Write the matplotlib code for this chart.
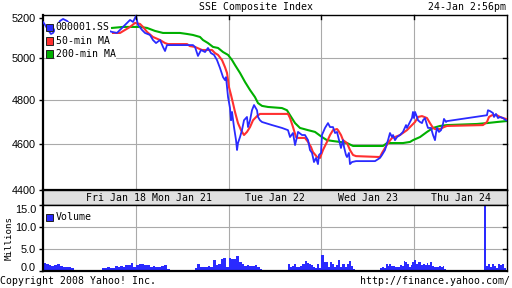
import matplotlib
matplotlib.use('Agg')
import matplotlib.pyplot as plt
from matplotlib.patches import Rectangle
from matplotlib.transforms import blended_transform_factory
import numpy as np

# x axis: one trading day per unit, 09:30 -> 0.0, 15:00 -> 1.0 (lunch kept as gap)
days = ['Fri Jan 18', 'Mon Jan 21', 'Tue Jan 22', 'Wed Jan 23', 'Thu Jan 24']
day_label_pos = [0.79, 1.5, 2.5, 3.5, 4.5]

price_t = [0.000, 0.022, 0.054, 0.086, 0.108, 0.140, 0.183, 0.216, 0.259, 0.291, 0.366,
           0.625, 0.679, 0.744, 0.797, 0.851, 0.905, 0.938, 0.970, 1.002,
           1.024, 1.067, 1.099, 1.153, 1.185, 1.218, 1.261, 1.293, 1.315, 1.336, 1.369,
           1.616, 1.638, 1.670, 1.703, 1.746, 1.778, 1.810, 1.843, 1.875, 1.907, 1.940,
           1.961, 1.972, 1.994,
           2.015, 2.026, 2.037, 2.058, 2.080, 2.091, 2.101, 2.123, 2.144, 2.166, 2.198,
           2.209, 2.231, 2.252, 2.274, 2.306, 2.317, 2.338, 2.360, 2.468, 2.575, 2.640,
           2.662, 2.694, 2.716, 2.737, 2.748, 2.791, 2.823, 2.856, 2.877, 2.899, 2.920,
           2.942, 2.963, 2.974, 2.996,
           3.006, 3.039, 3.071, 3.093, 3.125, 3.147, 3.168, 3.190, 3.211, 3.233, 3.244,
           3.265, 3.276, 3.297, 3.308, 3.330, 3.373, 3.578, 3.631, 3.653, 3.685, 3.707,
           3.718, 3.739, 3.761, 3.772, 3.793, 3.815, 3.847, 3.879, 3.912, 3.922, 3.955,
           3.976, 3.987, 3.998, 4.009,
           4.030, 4.041, 4.063, 4.084, 4.095, 4.116, 4.138, 4.149, 4.181, 4.203, 4.224,
           4.235, 4.246, 4.267, 4.289, 4.310, 4.321, 4.343, 4.353, 4.784, 4.795, 4.817,
           4.849, 4.860, 4.881, 4.903, 4.925, 4.957, 4.989]
price = [5179, 5164, 5139, 5119, 5124, 5149, 5184, 5194, 5184, 5169, 5154,
         5154, 5139, 5129, 5124, 5149, 5174, 5189, 5179, 5209,
         5164, 5139, 5124, 5114, 5089, 5074, 5089, 5055, 5035, 5064, 5064,
         5064, 5055, 5011, 5040, 5030, 5050, 5025, 5016, 4991, 4953, 4909,
         4895, 4909, 4815,
         4764, 4708, 4746, 4677, 4618, 4574, 4605, 4632, 4663, 4708, 4723,
         4677, 4708, 4754, 4778, 4754, 4723, 4708, 4700, 4686, 4673, 4663,
         4632, 4650, 4596, 4632, 4655, 4641, 4641, 4618, 4574, 4561, 4521,
         4539, 4512, 4552, 4561,
         4641, 4673, 4695, 4677, 4677, 4650, 4655, 4618, 4583, 4618, 4587,
         4552, 4543, 4561, 4512, 4521, 4525, 4525, 4539, 4552, 4574, 4605,
         4618, 4650, 4632, 4641, 4618, 4632, 4641, 4655, 4686, 4673, 4700,
         4718, 4746, 4718, 4746,
         4723, 4708, 4700, 4695, 4708, 4718, 4686, 4673, 4673, 4641, 4618,
         4650, 4673, 4655, 4663, 4691, 4714, 4700, 4704, 4731, 4754, 4750,
         4741, 4723, 4737, 4718, 4723, 4718, 4708]

ma50_t = [0.754, 0.830, 0.884, 0.938, 0.991, 1.045, 1.078, 1.121, 1.185, 1.261, 1.315,
          1.347, 1.552, 1.584, 1.638, 1.713, 1.821, 1.853, 1.886, 1.929, 1.961, 1.983,
          2.004, 2.026, 2.047, 2.069, 2.101, 2.134, 2.166, 2.198, 2.231, 2.263, 2.306,
          2.338, 2.640, 2.662, 2.694, 2.726, 2.748, 2.823, 2.856, 2.888, 2.909, 2.953,
          2.985, 3.017, 3.060, 3.093, 3.125, 3.168, 3.179, 3.211, 3.233, 3.276, 3.308,
          3.341, 3.373, 3.631, 3.653, 3.685, 3.718, 3.761, 3.793, 3.847, 3.922, 3.976,
          4.009, 4.041, 4.084, 4.138, 4.170, 4.203, 4.224, 4.278, 4.321, 4.353, 4.741,
          4.784, 4.806, 4.838, 4.892, 4.925, 4.957, 4.989]
ma50 = [5124, 5124, 5139, 5154, 5174, 5169, 5154, 5129, 5104, 5089, 5074,
        5069, 5069, 5059, 5055, 5040, 5040, 5025, 5016, 4991, 4957, 4929,
        4862, 4825, 4787, 4746, 4695, 4663, 4641, 4655, 4677, 4708, 4727,
        4737, 4737, 4718, 4677, 4632, 4628, 4628, 4610, 4587, 4565, 4543,
        4539, 4574, 4610, 4641, 4663, 4668, 4663, 4641, 4618, 4605, 4574,
        4552, 4547, 4543, 4561, 4583, 4605, 4628, 4632, 4641, 4663, 4686,
        4700, 4723, 4727, 4718, 4695, 4673, 4668, 4668, 4677, 4682, 4686,
        4700, 4723, 4731, 4731, 4723, 4718, 4714]

ma200_t = [0.744, 0.862, 0.970, 1.045, 1.121, 1.207, 1.293, 1.401, 1.476, 1.552, 1.616,
           1.692, 1.724, 1.778, 1.832, 1.886, 1.940, 1.994, 2.037, 2.069, 2.123, 2.177,
           2.231, 2.284, 2.317, 2.360, 2.425, 2.575, 2.629, 2.662, 2.716, 2.769, 2.856,
           2.931, 3.006, 3.060, 3.125, 3.200, 3.276, 3.341, 3.664, 3.707, 3.879, 3.955,
           3.987, 4.063, 4.138, 4.203, 4.278, 4.353, 4.677, 4.784, 4.892, 4.989]
ma200 = [5149, 5154, 5154, 5154, 5149, 5134, 5124, 5124, 5124, 5119, 5114,
         5104, 5089, 5074, 5055, 5050, 5030, 5016, 4991, 4967, 4929, 4886,
         4848, 4815, 4787, 4774, 4769, 4764, 4754, 4731, 4695, 4673, 4663,
         4655, 4632, 4618, 4614, 4610, 4605, 4592, 4592, 4605, 4605, 4610,
         4618, 4632, 4655, 4673, 4682, 4686, 4691, 4695, 4700, 4704]

# volume in millions, one list per trading session (day, start, end, values)
vol_sessions = [
    (0, '09:30', '11:30', [1.8, 1.7, 1.3, 1.2, 1.4, 1.6, 1.1, 0.9, 0.9, 0.9, 0.6, 0.3]),
    (0, '13:00', '15:00', [0.6, 0.6, 0.9, 0.7, 0.7, 1.1, 0.85, 1.2, 0.8, 1.3, 1.35, 1.8, 0.95]),
    (1, '09:30', '11:30', [1.4, 1.5, 1.5, 1.4, 1.35, 1.0, 1.2, 0.8, 0.85, 1.2, 1.3, 0.5]),
    (1, '13:00', '15:00', [0.6, 1.5, 0.9, 0.8, 0.8, 1.1, 0.9, 2.4, 1.3, 1.7, 2.7, 2.9, 1.0]),
    (2, '09:30', '11:30', [3.0, 2.7, 2.8, 3.3, 2.0, 1.5, 1.1, 1.35, 1.1, 1.2, 1.35, 0.9, 0.5]),
    (2, '13:00', '15:00', [1.5, 0.9, 1.2, 1.6, 1.0, 0.8, 1.1, 1.6, 2.3, 1.8, 1.5, 1.4, 1.0,
                           0.6, 1.5, 0.7]),
    (3, '09:30', '11:30', [3.6, 2.0, 2.0, 0.9, 2.0, 1.7, 1.0, 1.3, 2.4, 1.0, 1.5, 0.9, 1.7,
                           2.3, 1.2, 0.4]),
    (3, '13:00', '15:00', [0.7, 0.9, 0.6, 1.5, 1.2, 1.7, 1.2, 1.1, 1.0, 0.9, 1.0, 1.3, 1.2,
                           2.3, 2.1, 1.7, 1.0, 1.3, 2.1]),
    (4, '09:30', '11:30', [2.5, 1.5, 2.1, 2.0, 1.3, 1.7, 1.3, 1.9, 1.4, 2.1, 1.2, 0.9, 1.0,
                           0.8, 1.2, 0.9, 1.2, 0.4, 0.2]),
    (4, '13:38', '14:56', [16.0, 1.2, 1.5, 0.9, 1.5, 1.2, 0.75, 1.5, 1.35, 1.5, 0.6]),
]

price_ticks = [4400, 4600, 4800, 5000, 5200]
vol_ticks = [0, 5, 10, 15]

BLUE = '#2a2aff'
RED = '#ff3030'
GREEN = '#00b000'
GRID = '#aaaaaa'
MONO = 'DejaVu Sans Mono'
SANS = 'Liberation Sans'
W, H = 512, 288


def pos(day, hhmm):
    h, m = map(int, hhmm.split(':'))
    return day + (h * 60 + m - 570) / 330.0


def fx(x):
    return x / W


def fy(y):
    return 1 - y / H


def inner_ticks(a, yvals, xvals):
    # short inward ticks on the right and top edges
    tr = blended_transform_factory(a.transAxes, a.transData)
    for v in yvals:
        a.plot([0.991, 1.0], [v, v], transform=tr, color='black', lw=1,
               clip_on=False, zorder=5)
    tr = blended_transform_factory(a.transData, a.transAxes)
    for d in xvals:
        a.plot([d, d], [0.98, 1.0], transform=tr, color='black', lw=1,
               clip_on=False, zorder=5)


fig = plt.figure(figsize=(5.12, 2.88), dpi=100)
fig.patch.set_facecolor('white')

ax = fig.add_axes([fx(43), fy(190), 464 / W, 175 / H])
strip = fig.add_axes([fx(43), fy(205), 464 / W, 15 / H])
axv = fig.add_axes([fx(43), fy(271), 464 / W, 66 / H])

# ---- price panel ----
ax.set_yscale('log')
ax.set_xlim(0, 5)
ax.set_ylim(4400, 5214)
for v in [4600, 4800, 5000]:
    ax.axhline(v, color=GRID, lw=0.8, zorder=0)
for d in range(1, 5):
    ax.axvline(d, color=GRID, lw=0.8, zorder=0)
ax.plot(ma200_t, ma200, color=GREEN, lw=1.5, zorder=2)
ax.plot(ma50_t, ma50, color=RED, lw=1.5, zorder=3)
ax.plot(price_t, price, color=BLUE, lw=1.3, zorder=4)
ax.set_yticks(price_ticks)
ax.set_yticklabels([str(v) for v in price_ticks], fontsize=7.8, family=SANS)
ax.yaxis.set_minor_locator(matplotlib.ticker.NullLocator())
ax.tick_params(axis='y', direction='out', length=3, width=1, pad=2)
ax.set_xticks([])
inner_ticks(ax, [4600, 4800, 5000], [1, 2, 3, 4])

# ---- date strip ----
strip.set_facecolor('#e0e0e0')
strip.set_xlim(0, 5)
strip.set_ylim(0, 1)
strip.set_xticks([])
strip.set_yticks([])
for i, name in enumerate(days):
    strip.text(day_label_pos[i], 0.45, name, ha='center', va='center',
               fontsize=7.1, family=MONO)

# ---- volume panel ----
axv.set_xlim(0, 5)
axv.set_ylim(0, 15)
for v in [5, 10]:
    axv.axhline(v, color=GRID, lw=0.8, zorder=0)
for d in range(1, 5):
    axv.axvline(d, color=GRID, lw=0.8, zorder=0)
for day, start, end, vals in vol_sessions:
    a, b = pos(day, start), pos(day, end)
    edges = np.linspace(a, b, len(vals) + 1)
    axv.bar(edges[:-1], vals, width=(b - a) / len(vals), align='edge',
            color=BLUE, edgecolor='none', zorder=2)
axv.set_yticks(vol_ticks)
axv.set_yticklabels(['%.1f' % v for v in vol_ticks], fontsize=7.8, family=SANS)
labels = axv.get_yticklabels()
labels[-1].set_va('top')
labels[0].set_va('baseline')
axv.tick_params(axis='y', direction='out', length=3, width=1, pad=2)
axv.set_xticks([])
axv.set_ylabel('Millions', fontsize=6.6, family=MONO, labelpad=1)
inner_ticks(axv, [5, 10], [])

for a in (ax, strip, axv):
    for s in a.spines.values():
        s.set_color('black')
        s.set_linewidth(1)
    a.spines['left'].set_linewidth(1.6)
ax.spines['bottom'].set_linewidth(1.6)
axv.spines['bottom'].set_linewidth(1.6)


# ---- legends ----
def legend_item(x, y, color, label):
    fig.add_artist(Rectangle((fx(x - 3.5), fy(y + 3.5)), 7 / W, 7 / H,
                             transform=fig.transFigure, facecolor=color,
                             edgecolor='#222222', lw=0.7, zorder=10))
    fig.text(fx(x + 6), fy(y), label, ha='left', va='center', fontsize=7.1,
             family=MONO, zorder=9,
             bbox=dict(facecolor='white', edgecolor='none', pad=0.5))


legend_item(49.5, 27.5, BLUE, '000001.SS')
legend_item(49.5, 41, RED, '50-min MA')
legend_item(49.5, 54, GREEN, '200-min MA')
legend_item(49.5, 217.5, BLUE, 'Volume')

# ---- header / footer ----
fig.text(0.5, fy(7), 'SSE Composite Index', ha='center', va='center',
         fontsize=7.1, family=MONO)
fig.text(fx(506), fy(7), '24-Jan 2:56pm', ha='right', va='center',
         fontsize=7.1, family=MONO)
fig.text(fx(0), fy(281), 'Copyright 2008 Yahoo! Inc.', ha='left', va='center',
         fontsize=7.1, family=MONO)
fig.text(fx(510), fy(281), 'http://finance.yahoo.com/', ha='right', va='center',
         fontsize=7.1, family=MONO)

fig.savefig('out.png', dpi=100, facecolor='white')
